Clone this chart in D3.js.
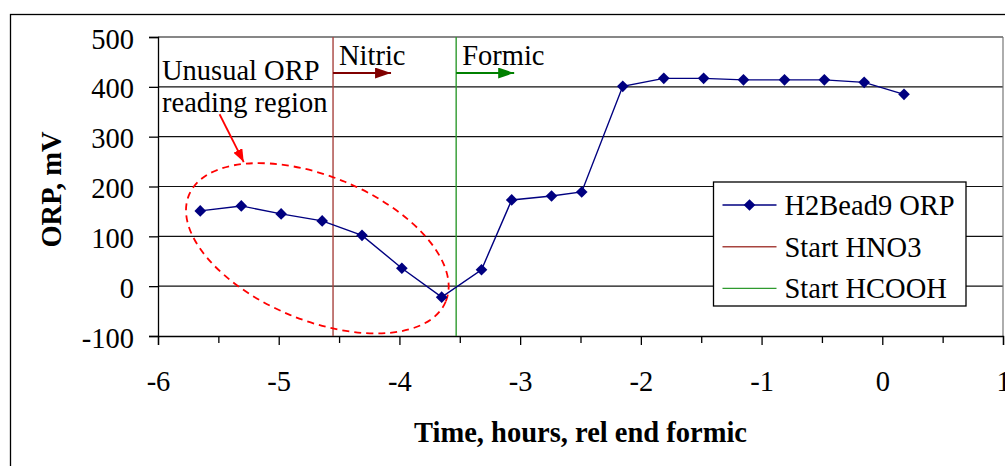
<!DOCTYPE html>
<html>
<head>
<meta charset="utf-8">
<script src="https://cdn.jsdelivr.net/npm/d3@7"></script>
<style>
  body { margin: 0; background: #fff; }
  svg text { font-family: 'Liberation Serif', 'Times New Roman', serif; fill: #000; }
</style>
</head>
<body>
<div id="chart"></div>
<script>
'use strict';

// data
const times = [-5.65, -5.31, -4.98, -4.64, -4.31, -3.98, -3.65, -3.32, -3.07, -2.74, -2.49,
  -2.15, -1.81, -1.48, -1.15, -0.81, -0.48, -0.15, 0.18];
const orp = [151, 161, 145, 131, 102, 36, -22, 33, 173, 181, 189,
  401, 417, 417, 414, 414, 414, 409, 385];
const xTicks = [-6, -5, -4, -3, -2, -1, 0, 1];
const yTicks = [-100, 0, 100, 200, 300, 400, 500];
const markers = [
  { name: 'Start HNO3', x: -4.55, color: '#a8443f', label: 'Nitric', arrow: '#800000' },
  { name: 'Start HCOOH', x: -3.53, color: '#2e9a2e', label: 'Formic', arrow: '#008000' }
];
const seriesName = 'H2Bead9 ORP';

const w = 1005, h = 466;
const margins = { left: 158, right: 2, top: 37, bottom: 130 };
const fontSize = 28.5;

const svg = d3.select('#chart').append('svg')
  .attr('width', w)
  .attr('height', h);

// outer chart frame (cut off at the right and bottom like the picture)
svg.append('rect')
  .attr('x', 10.5)
  .attr('y', 14.5)
  .attr('width', w + 10)
  .attr('height', h + 10)
  .attr('fill', 'none')
  .attr('stroke', '#000')
  .attr('stroke-width', 1.3);

const x = d3.scaleLinear()
  .domain([-6, 1])
  .range([margins.left, w - margins.right]);

const y = d3.scaleLinear()
  .domain([-100, 500])
  .range([h - margins.bottom, margins.top]);

// horizontal gridlines
svg.append('g')
  .attr('class', 'grid')
  .selectAll('line')
  .data(yTicks.filter(d => d > -100))
  .enter()
  .append('line')
  .attr('x1', x(-6))
  .attr('x2', x(1))
  .attr('y1', d => y(d))
  .attr('y2', d => y(d))
  .attr('stroke', '#111')
  .attr('stroke-width', 1.2);

// right edge of the plot area
svg.append('line')
  .attr('x1', x(1)).attr('x2', x(1))
  .attr('y1', y(500)).attr('y2', y(-100))
  .attr('stroke', '#777')
  .attr('stroke-width', 1.2);

// x axis: ticks every half hour, labels on whole hours
const xAxis = d3.axisBottom(x)
  .tickValues(d3.range(-6, 1.01, 0.5))
  .tickSize(9)
  .tickFormat(d => xTicks.includes(d) ? String(d) : '');

const gx = svg.append('g')
  .attr('class', 'x axis')
  .attr('font-family', null)
  .attr('transform', 'translate(0,' + y(-100) + ')')
  .call(xAxis);
gx.select('.domain').attr('stroke', '#000').attr('stroke-width', 1.3);
gx.selectAll('.tick line').attr('stroke', '#000').attr('stroke-width', 1.3)
  .attr('y2', d => Number.isInteger(d) ? 9 : 7);
gx.selectAll('.tick text')
  .attr('y', 55)
  .attr('dy', 0)
  .style('font-size', fontSize + 'px');

// y axis
const yAxis = d3.axisLeft(y)
  .tickValues(yTicks)
  .tickSize(9)
  .tickPadding(15)
  .tickFormat(d => String(d));

const gy = svg.append('g')
  .attr('class', 'y axis')
  .attr('transform', 'translate(' + x(-6) + ',0)')
  .call(yAxis);
gy.select('.domain').attr('stroke', '#000').attr('stroke-width', 1.3);
gy.selectAll('.tick line').attr('stroke', '#000').attr('stroke-width', 1.3);
gy.selectAll('.tick text')
  .attr('dy', 11)
  .style('font-size', fontSize + 'px');

// axis titles
svg.append('text')
  .attr('x', (x(-6) + x(1)) / 2)
  .attr('y', 442)
  .style('text-anchor', 'middle')
  .style('font-size', fontSize + 'px')
  .style('font-weight', 'bold')
  .text('Time, hours, rel end formic');

svg.append('text')
  .attr('transform', 'translate(61,' + ((y(500) + y(-100)) / 2 + 3) + ') rotate(-90)')
  .style('text-anchor', 'middle')
  .style('font-size', fontSize + 'px')
  .style('font-weight', 'bold')
  .text('ORP, mV');

// arrow heads
const defs = svg.append('defs');
function addHead(id, color, len, wid) {
  defs.append('marker')
    .attr('id', id)
    .attr('viewBox', '0 0 10 10')
    .attr('preserveAspectRatio', 'none')
    .attr('refX', 10)
    .attr('refY', 5)
    .attr('markerUnits', 'userSpaceOnUse')
    .attr('markerWidth', len)
    .attr('markerHeight', wid)
    .attr('orient', 'auto')
    .append('path')
    .attr('d', 'M0,0L10,5L0,10Z')
    .attr('fill', color);
}
markers.forEach((m, i) => addHead('head' + i, m.arrow, 16, 11));
addHead('headRed', '#ff0000', 13, 10);

// start lines with their labels
const starts = svg.append('g').attr('class', 'starts');
markers.forEach((m, i) => {
  starts.append('line')
    .attr('x1', x(m.x)).attr('x2', x(m.x))
    .attr('y1', y(500)).attr('y2', y(-100))
    .attr('stroke', m.color)
    .attr('stroke-width', 1.4);
  starts.append('line')
    .attr('x1', x(m.x)).attr('x2', x(m.x) + 58)
    .attr('y1', y(500) + 36).attr('y2', y(500) + 36)
    .attr('stroke', m.arrow)
    .attr('stroke-width', 1.8)
    .attr('marker-end', 'url(#head' + i + ')');
  starts.append('text')
    .attr('x', x(m.x) + 6)
    .attr('y', y(500) + 28)
    .style('font-size', fontSize + 'px')
    .text(m.label);
});

// dashed ellipse round the unusual region
const ellipse = { cx: -4.68, cy: 76, rx: 139, ry: 72, angle: 22.5 };
svg.append('ellipse')
  .attr('transform', 'translate(' + x(ellipse.cx) + ',' + y(ellipse.cy) + ') rotate(' + ellipse.angle + ')')
  .attr('rx', ellipse.rx)
  .attr('ry', ellipse.ry)
  .attr('fill', 'none')
  .attr('stroke', '#ff0000')
  .attr('stroke-width', 1.8)
  .attr('stroke-dasharray', '7,5');

svg.append('line')
  .attr('x1', x(-5.49)).attr('y1', y(345))
  .attr('x2', x(-5.29)).attr('y2', y(249))
  .attr('stroke', '#ff0000')
  .attr('stroke-width', 1.8)
  .attr('marker-end', 'url(#headRed)');

const note = svg.append('text')
  .attr('x', x(-6) + 4)
  .attr('y', 80)
  .style('font-size', fontSize + 'px');
note.append('tspan').text('Unusual ORP');
note.append('tspan').attr('x', x(-6) + 4).attr('dy', 32).text('reading region');

// the ORP series, square diamonds
const points = times.map((t, i) => ({ t: t, v: orp[i] }));
const diamond = d3.symbol().type(d3.symbolSquare).size(68);

svg.append('path')
  .datum(points)
  .attr('fill', 'none')
  .attr('stroke', '#000080')
  .attr('stroke-width', 1.4)
  .attr('d', d3.line().x(d => x(d.t)).y(d => y(d.v)));

svg.append('g')
  .selectAll('.dot')
  .data(points)
  .enter()
  .append('path')
  .attr('class', 'dot')
  .attr('d', diamond)
  .attr('fill', '#000080')
  .attr('transform', d => 'translate(' + x(d.t) + ',' + y(d.v) + ') rotate(45)');

// legend
const legend = svg.append('g')
  .attr('class', 'legend')
  .attr('transform', 'translate(713.5,182)');
legend.append('rect')
  .attr('width', 252.5)
  .attr('height', 124)
  .attr('fill', '#fff')
  .attr('stroke', '#000')
  .attr('stroke-width', 1.3);

const entries = [{ name: seriesName, color: '#000080', dot: true }]
  .concat(markers.map(m => ({ name: m.name, color: m.color, dot: false })));
entries.forEach((d, i) => {
  const cy = 23 + i * 41.7;
  legend.append('line')
    .attr('x1', 9).attr('x2', 63)
    .attr('y1', cy).attr('y2', cy)
    .attr('stroke', d.color)
    .attr('stroke-width', 1.4);
  if (d.dot) {
    legend.append('path')
      .attr('d', diamond)
      .attr('fill', d.color)
      .attr('transform', 'translate(36,' + cy + ') rotate(45)');
  }
  legend.append('text')
    .attr('x', 71)
    .attr('y', cy + 10)
    .style('font-size', fontSize + 'px')
    .text(d.name);
});
</script>
</body>
</html>
